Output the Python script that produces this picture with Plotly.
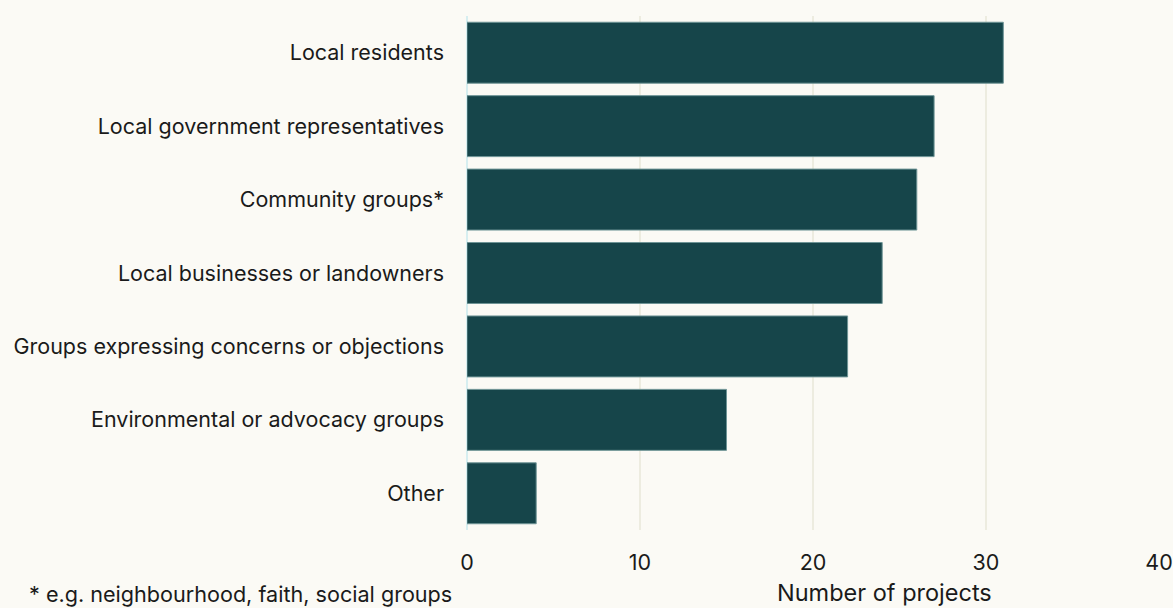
import plotly.graph_objects as go

categories = [
    "Local residents",
    "Local government representatives",
    "Community groups*",
    "Local businesses or landowners",
    "Groups expressing concerns or objections",
    "Environmental or advocacy groups",
    "Other",
]
projects = [31, 27, 26, 24, 22, 15, 4]
x_ticks = [0, 10, 20, 30, 40]

BG = "#FBFAF5"
BAR = "#16454A"
FONT = "Inter, Noto Sans, sans-serif"
TXT = "#1a1a1a"

fig = go.Figure(
    go.Bar(
        x=projects,
        y=categories,
        orientation="h",
        marker=dict(color=BAR, line=dict(color="#6E9496", width=1)),
        width=0.83,
        hoverinfo="x+y",
    )
)

fig.update_layout(
    width=1173,
    height=608,
    margin=dict(l=467, r=14, t=16, b=78),
    paper_bgcolor=BG,
    plot_bgcolor=BG,
    showlegend=False,
    font=dict(family=FONT, size=21.5, color=TXT),
    bargap=0.17,
)

fig.update_xaxes(
    range=[0, 40],
    tickvals=x_ticks,
    automargin=False,
    showgrid=True,
    gridcolor="#EDECE0",
    gridwidth=2,
    zeroline=True,
    zerolinecolor="#D6EEF0",
    zerolinewidth=2,
    ticks="",
    ticklabelstandoff=17,
    tickfont=dict(size=21.5, color=TXT),
    showline=False,
)

fig.update_yaxes(
    categoryorder="array",
    categoryarray=categories[::-1],
    automargin=False,
    showgrid=False,
    ticks="",
    ticklabelstandoff=22,
    tickfont=dict(size=21.5, color=TXT),
    showline=False,
)

# axis title sits right of centre, on the same line as the footnote
fig.add_annotation(
    text="Number of projects",
    xref="paper", yref="paper",
    x=(884 - 467) / (1159 - 467), y=-0.1225,
    xanchor="center", yanchor="middle",
    showarrow=False,
    font=dict(size=23.5, color=TXT),
)
fig.add_annotation(
    text="* e.g. neighbourhood, faith, social groups",
    xref="paper", yref="paper",
    x=(240 - 467) / (1159 - 467), y=-0.1245,
    xanchor="center", yanchor="middle",
    showarrow=False,
    font=dict(size=21.6, color=TXT),
)

fig.write_html("out.html")
